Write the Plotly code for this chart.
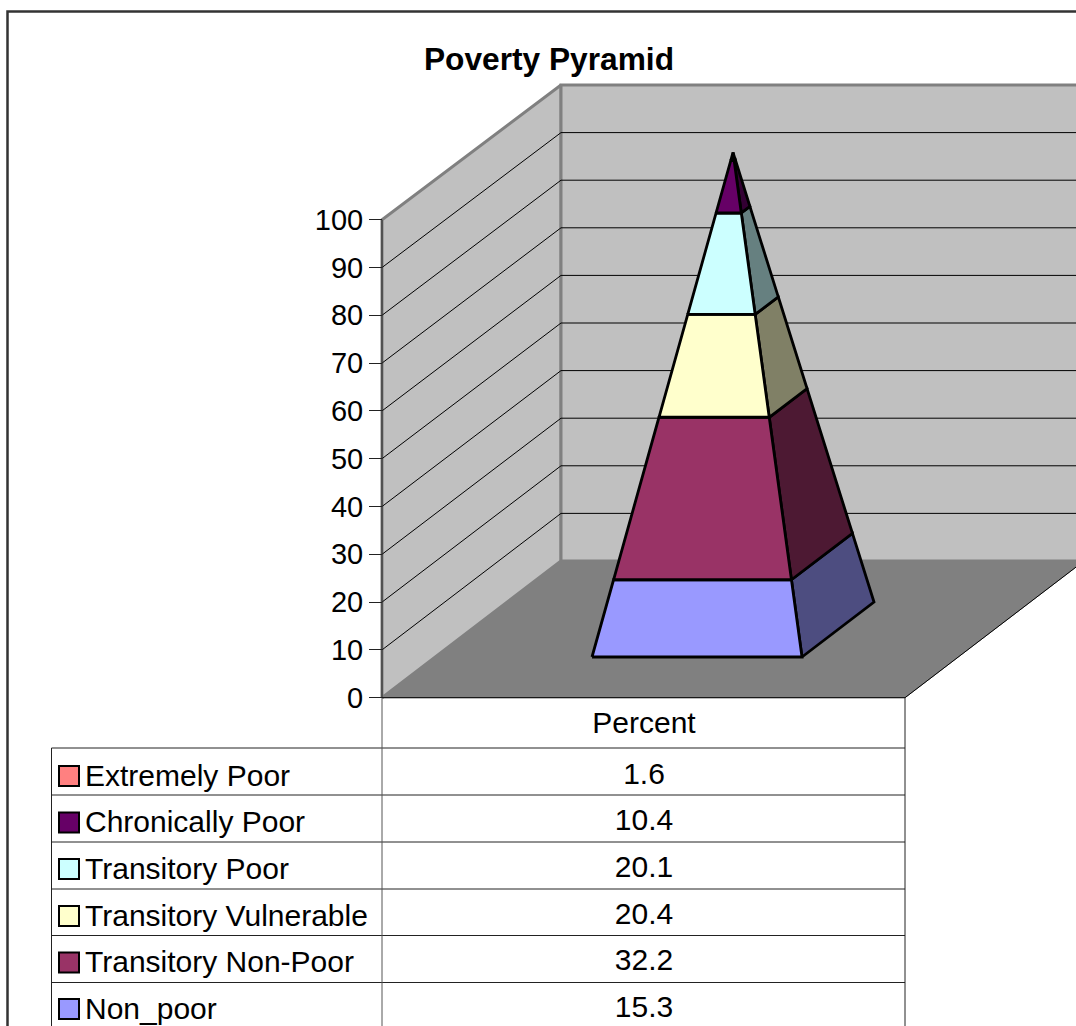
import plotly.graph_objects as go

categories = ["Extremely Poor", "Chronically Poor", "Transitory Poor",
              "Transitory Vulnerable", "Transitory Non-Poor", "Non_poor"]
percent = [1.6, 10.4, 20.1, 20.4, 32.2, 15.3]
percent_labels = ["1.6", "10.4", "20.1", "20.4", "32.2", "15.3"]
front_colors = ["#FF8080", "#660066", "#CCFFFF", "#FFFFCC", "#993366", "#9999FF"]
side_colors = ["#804040", "#330033", "#668080", "#808066", "#4D1933", "#4D4D80"]
y_ticks = [0, 10, 20, 30, 40, 50, 60, 70, 80, 90, 100]

W, H = 1076, 1026
FONT = "Liberation Sans"
Y0_PX, PX_PER_UNIT = 697.7, 4.78
DEPTH_X, DEPTH_V = 179, 28.6
X_LEFT, X_RIGHT = 382, 905
TEXT_SIZE = 30


def val(py):
    return (Y0_PX - py) / PX_PER_UNIT


def project(x, d, v):
    return x + DEPTH_X * d, v * (1 - 0.0042 * d) + DEPTH_V * d


def poly(points):
    pts = [project(*p) for p in points]
    pts.append(pts[0])
    return [p[0] for p in pts], [p[1] for p in pts]


fig = go.Figure()


def add_poly(points, fill, line, width):
    xs, ys = poly(points)
    fig.add_trace(go.Scatter(x=xs, y=ys, mode="lines", fill="toself", fillcolor=fill,
                             line=dict(color=line, width=width), hoverinfo="skip",
                             showlegend=False))


def add_line(xs, ys, color="#000000", width=1):
    fig.add_trace(go.Scatter(x=xs, y=ys, mode="lines", line=dict(color=color, width=width),
                             hoverinfo="skip", showlegend=False))


# Floor and walls
add_poly([(X_LEFT, 0, 0), (X_RIGHT, 0, 0), (X_RIGHT, 1, 0), (X_LEFT, 1, 0)], "#808080", "#808080", 1)
add_poly([(X_LEFT, 0, 0), (X_LEFT, 0, 100), (X_LEFT, 1, 100), (X_LEFT, 1, 0)], "#C0C0C0", "#808080", 3)
add_poly([(X_LEFT, 1, 0), (X_LEFT, 1, 100), (X_RIGHT, 1, 100), (X_RIGHT, 1, 0)], "#C0C0C0", "#808080", 3)

# Gridlines
for v in y_ticks[1:-1]:
    a = project(X_LEFT, 0, v)
    b = project(X_LEFT, 1, v)
    c = project(X_RIGHT, 1, v)
    add_line([a[0], b[0], c[0]], [a[1], b[1], c[1]], "#000000", 1)

# Axis line and floor edges
a, b = project(X_LEFT, 0, 0), project(X_LEFT, 0, 100)
add_line([a[0], b[0]], [a[1], b[1]], "#333333", 1.2)
a, b = project(X_RIGHT, 0, 0), project(X_RIGHT, 1, 0)
add_line([a[0], b[0]], [a[1], b[1]], "#000000", 1)

# Pyramid: stacked from the base upward, bands derived from the values
FL = (538.7, 0.2977)
FR = (748.7, 0.2977)
BR = (748.7, 0.700)
APEX = (643.7, 0.499)


def at(corner, h):
    t = h / 100
    return (corner[0] + t * (APEX[0] - corner[0]),
            corner[1] + t * (APEX[1] - corner[1]), h)


level = 0.0
bands = []
for i in range(len(percent) - 1, -1, -1):
    bands.append((level, level + percent[i], front_colors[i], side_colors[i]))
    level += percent[i]

for lo, hi, fc, sc in bands:
    add_poly([at(FR, lo), at(BR, lo), at(BR, hi), at(FR, hi)], sc, "#000000", 2.8)
for lo, hi, fc, sc in bands:
    add_poly([at(FL, lo), at(FR, lo), at(FR, hi), at(FL, hi)], fc, "#000000", 2.8)

# Data table
row_lines_px = [748, 795, 842, 889, 935.5, 982.5]
label_centers_px = [778, 824, 871, 918, 964, 1011]
value_centers_px = [776, 822, 869, 916, 962, 1009]
key_centers_px = [776, 822.5, 869, 916, 962.5, 1009]
add_line([X_LEFT, X_RIGHT], [val(697.7), val(697.7)], "#000000", 1)
for py in row_lines_px:
    add_line([51.5, X_RIGHT], [val(py), val(py)], "#222222", 1)
add_line([51.5, 51.5], [val(748), val(H)], "#222222", 1)
add_line([X_LEFT, X_LEFT], [val(697.7), val(H)], "#555555", 1)
add_line([X_RIGHT, X_RIGHT], [val(697.7), val(H)], "#222222", 1)

fig.add_trace(go.Scatter(x=[69] * 6, y=[val(p) for p in key_centers_px], mode="markers",
                         marker=dict(symbol="square", size=20, color=front_colors,
                                     line=dict(color="#000000", width=2)),
                         hoverinfo="skip", showlegend=False))
fig.add_trace(go.Scatter(x=[85] * 6, y=[val(p) for p in label_centers_px], mode="text",
                         text=categories, textposition="middle right",
                         textfont=dict(family=FONT, size=TEXT_SIZE, color="#000000"),
                         hoverinfo="skip", showlegend=False))
fig.add_trace(go.Scatter(x=[644] * 6, y=[val(p) for p in value_centers_px], mode="text",
                         text=percent_labels, textposition="middle center",
                         textfont=dict(family=FONT, size=TEXT_SIZE, color="#000000"),
                         hoverinfo="skip", showlegend=False))
fig.add_trace(go.Scatter(x=[644], y=[val(725)], mode="text", text=["Percent"],
                         textposition="middle center",
                         textfont=dict(family=FONT, size=TEXT_SIZE, color="#000000"),
                         hoverinfo="skip", showlegend=False))

# Outer frame
add_line([7.5, 7.5, W], [val(H), val(11.5), val(11.5)], "#333333", 2.5)

fig.update_layout(
    width=W, height=H, autosize=False,
    margin=dict(l=0, r=0, t=0, b=0, pad=0),
    paper_bgcolor="#FFFFFF", plot_bgcolor="#FFFFFF",
    showlegend=False,
    font=dict(family=FONT, color="#000000"),
    title=dict(text="<b>Poverty Pyramid</b>", x=549 / W, xanchor="center",
               y=1 - 59 / H, yanchor="middle",
               font=dict(family=FONT, size=31.7, color="#000000")),
    xaxis=dict(range=[0, W], visible=False, fixedrange=True),
    yaxis=dict(range=[val(H), val(0)], anchor="free", position=X_LEFT / W,
               tickmode="array", tickvals=y_ticks, ticktext=[str(t) for t in y_ticks],
               ticks="outside", ticklen=13, tickwidth=1.2, tickcolor="#222222",
               tickfont=dict(family=FONT, size=29, color="#000000"),
               showgrid=False, zeroline=False, showline=False, fixedrange=True),
)

fig.write_html("out.html", config={"displayModeBar": False},
               post_script="document.body.style.margin='0';document.body.style.overflow='hidden';")
